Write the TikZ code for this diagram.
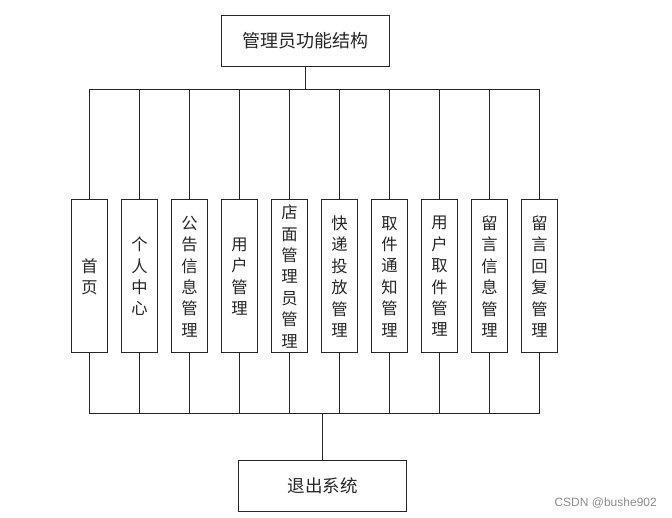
\documentclass[tikz,border=0pt]{standalone}
\usepackage{fontspec}
\setmainfont{Noto Sans CJK SC}
\newfontfamily\wmfont{Liberation Sans}
\begin{document}
\begin{tikzpicture}[x=1pt,y=-1pt,
  box/.style={draw=black!85, line width=1pt, fill=white, inner sep=0pt, text=black!85},
  wide/.style={box, minimum width=168pt, minimum height=51pt},
  col/.style={box, minimum width=36pt, minimum height=153pt, align=center, font=\fontsize{16.3}{21.4}\selectfont},
  link/.style={draw=black!85, line width=1pt},
]
\useasboundingbox (0,0) rectangle (672,518);
\node[wide, font=\fontsize{18}{20}\selectfont] (top) at (305.5,40.7) {管理员功能结构};
\node[wide, font=\fontsize{17.5}{20}\selectfont] (exit) at (322.5,485.7) {退出系统};
\foreach \i/\t in {1/{首\\页},2/{个\\人\\中\\心},3/{公\\告\\信\\息\\管\\理},4/{用\\户\\管\\理},5/{店\\面\\管\\理\\员\\管\\理},6/{快\\递\\投\\放\\管\\理},7/{取\\件\\通\\知\\管\\理},8/{用\\户\\取\\件\\管\\理},9/{留\\言\\信\\息\\管\\理},10/{留\\言\\回\\复\\管\\理}}{
  \node[col] (c\i) at ({89.5+50*(\i-1)},276.5) {\t};
}
\coordinate (bt) at (0,89.5);
\coordinate (bb) at (0,414);
\draw[link, line width=1.6pt] (top.south) -- (top.south |- bt);
\draw[link] (c1.north |- bt) -- (c10.north |- bt);
\draw[link] (c1.south |- bb) -- (c10.south |- bb);
\foreach \i in {1,...,10}{
  \draw[link] (c\i.north) -- (c\i.north |- bt);
  \draw[link] (c\i.south) -- (c\i.south |- bb);
}
\draw[link] (exit.north) -- (exit.north |- bb);
\node[font=\wmfont\fontsize{12}{14}\selectfont, text=black!45, anchor=east, inner sep=0pt] (wm) at (657,503) {CSDN @bushe902};
\end{tikzpicture}
\end{document}
